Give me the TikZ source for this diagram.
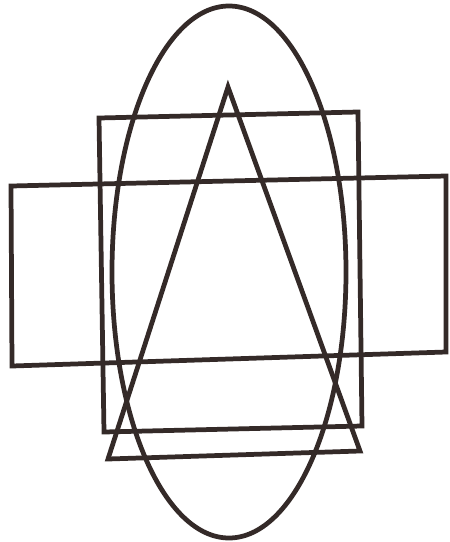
\documentclass[tikz,border=0pt]{standalone}
\usetikzlibrary{positioning}
\definecolor{inkbrown}{RGB}{52,42,40}
\tikzset{
  outline/.style={draw=inkbrown,line width=2.7pt,line join=miter}
}

\begin{document}
\begin{tikzpicture}[x=0.02cm,y=-0.02cm]
\useasboundingbox (0,0) rectangle (450,542);

% wide rectangle
\coordinate (wa) at (11,186);
\coordinate (wb) at (446,176);
\coordinate (wc) at (446,352);
\coordinate (wd) at (12,366);
\draw[outline] (wa) -- (wb) -- (wc) -- (wd) -- cycle;

% tall rectangle
\coordinate (ta) at (99,118);
\coordinate (tb) at (358,112);
\coordinate (tc) at (362,426);
\coordinate (td) at (104,432);
\draw[outline] (ta) -- (tb) -- (tc) -- (td) -- cycle;

% triangle
\coordinate (apex) at (228,87);
\coordinate (bl) at (108,459);
\coordinate (br) at (360,451);
\draw[outline] (apex) -- (br) -- (bl) -- cycle;

% ellipse
\coordinate (centre) at (229,272);
\draw[outline] (centre) ellipse [x radius=117,y radius=266];

\end{tikzpicture}
\end{document}
